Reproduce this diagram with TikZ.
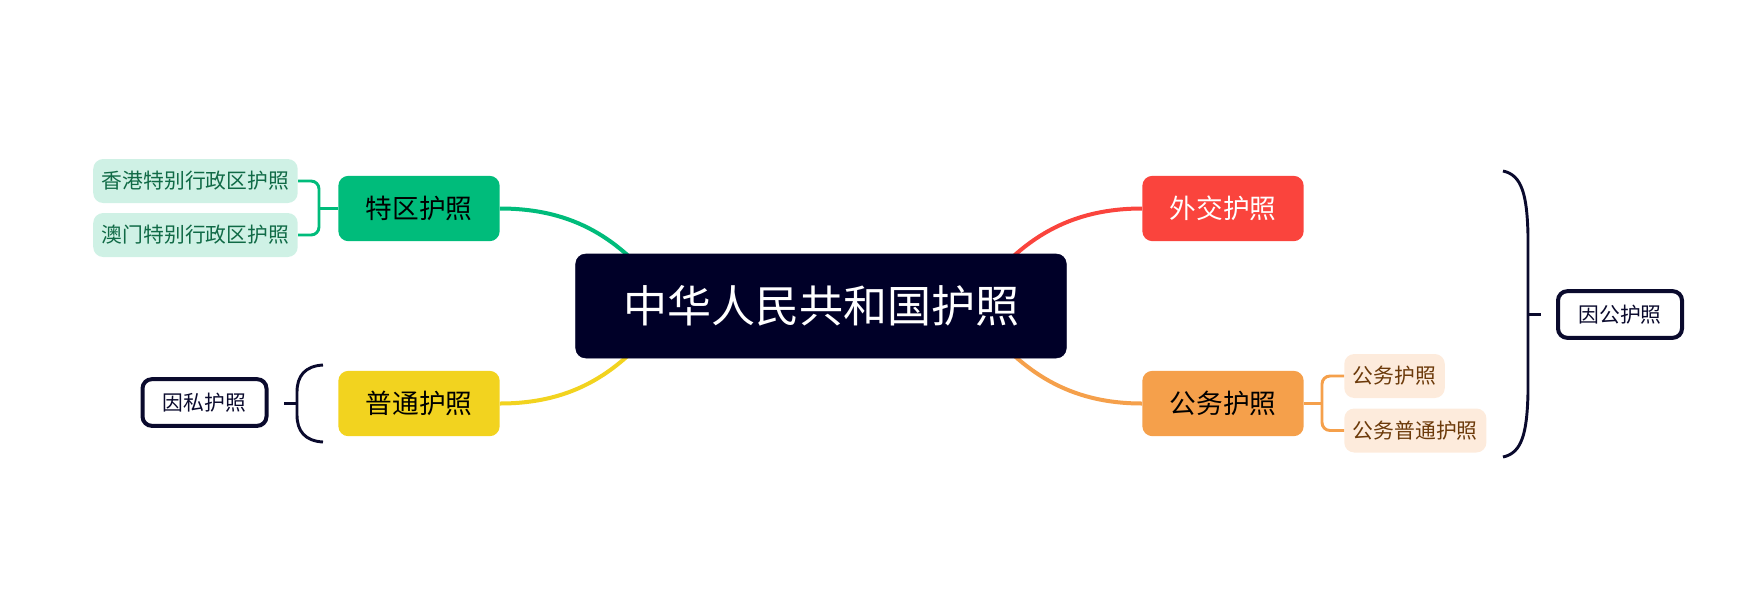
\documentclass[tikz,border=0pt]{standalone}
\usepackage{fontspec}
\newfontfamily\cjk{Noto Sans CJK SC}
\definecolor{rootnavy}{RGB}{0,0,40}
\definecolor{tagnavy}{RGB}{10,10,45}
\definecolor{mapgreen}{RGB}{0,188,123}
\definecolor{mapgreenlt}{RGB}{207,241,229}
\definecolor{mapgreentx}{RGB}{16,106,70}
\definecolor{mapred}{RGB}{250,68,61}
\definecolor{mapyellow}{RGB}{242,211,31}
\definecolor{maporange}{RGB}{245,160,75}
\definecolor{maporangelt}{RGB}{253,235,220}
\definecolor{maporangetx}{RGB}{108,58,10}
\usepackage{tikz}
\usetikzlibrary{backgrounds}

\begin{document}
\begin{tikzpicture}[x=0.75pt, y=-0.75pt,
    every node/.style={font=\cjk},
    branch/.style={rounded corners=7.5pt, minimum width=121pt, minimum height=49pt, inner sep=0pt, font=\cjk\fontsize{20}{24}\selectfont},
    leaf/.style={rounded corners=7.5pt, minimum height=33pt, inner xsep=6.5pt, inner ysep=0pt, font=\cjk\fontsize{15.6}{18}\selectfont},
    tag/.style={draw=tagnavy, fill=white, line width=3pt, rounded corners=7pt, minimum width=93pt, minimum height=35pt, inner sep=0pt, text=tagnavy, font=\cjk\fontsize{15.6}{18}\selectfont},
    link/.style={line width=3pt},
    twig/.style={line width=2.2pt, rounded corners=6pt},
    brace/.style={draw=tagnavy, line width=2.2pt}]
  \useasboundingbox (0,0) rectangle (1748,604);
  % Root
  \node[fill=rootnavy, draw=rootnavy, rounded corners=7.5pt, minimum width=368pt, minimum height=78pt, inner sep=0pt, text=white, font=\cjk\fontsize{33}{40}\selectfont] (root) at (821,306) {中华人民共和国护照};
  % Branches
  \node[branch, fill=mapgreen] (tq) at (419,208.5) {特区护照};
  \node[branch, fill=mapyellow] (pt) at (419,403.5) {普通护照};
  \node[branch, fill=mapred, text=white] (wj) at (1223,208.5) {外交护照};
  \node[branch, fill=maporange] (gw) at (1223,403.5) {公务护照};
  % Leaves
  \node[leaf, fill=mapgreenlt, text=mapgreentx, anchor=east] (hk) at (298,181) {香港特别行政区护照};
  \node[leaf, fill=mapgreenlt, text=mapgreentx, anchor=east] (mo) at (298,235) {澳门特别行政区护照};
  \node[leaf, fill=maporangelt, text=maporangetx, anchor=west] (gw1) at (1344,376) {公务护照};
  \node[leaf, fill=maporangelt, text=maporangetx, anchor=west] (gw2) at (1344,430.5) {公务普通护照};
  % Tags
  \node[tag] (ys) at (204.5,402.5) {因私护照};
  \node[tag] (yg) at (1620,314.5) {因公护照};
  % Curves into the root
  \coordinate (rTL) at (660,290);
  \coordinate (rBL) at (660,321);
  \coordinate (rTR) at (982,290);
  \coordinate (rBR) at (982,321);
  \begin{scope}[on background layer]
    \draw[link, mapgreen] (tq.east) .. controls (575,208.5) and (620,240) .. (rTL);
    \draw[link, mapyellow] (pt.east) .. controls (575,403.5) and (620,371) .. (rBL);
    \draw[link, mapred] (wj.west) .. controls (1068,208.5) and (1022,240) .. (rTR);
    \draw[link, maporange] (gw.west) .. controls (1068,403.5) and (1022,371) .. (rBR);
  \end{scope}
  % Forks
  \coordinate (tqfork) at (319,208.5);
  \coordinate (gwfork) at (1322,403.5);
  \draw[twig, mapgreen] (tq.west) -- (tqfork);
  \draw[twig, mapgreen] (hk.east) -| (tqfork) |- (mo.east);
  \draw[twig, maporange] (gw.east) -- (gwfork);
  \draw[twig, maporange] (gw1.west) -| (gwfork) |- (gw2.west);
  % Brackets
  \draw[brace] (323,365) .. controls (305,366) and (297,376) .. (297,392) -- (297,415) .. controls (297,431) and (305,441) .. (323,442);
  \draw[brace] (297,403.5) -- (284,403.5);
  \draw[brace] (1503,171) .. controls (1522,175) and (1527,195) .. (1528,235) -- (1528,393) .. controls (1527,433) and (1522,453) .. (1503,457);
  \draw[brace] (1528,314.5) -- (1541,314.5);
\end{tikzpicture}
\end{document}
